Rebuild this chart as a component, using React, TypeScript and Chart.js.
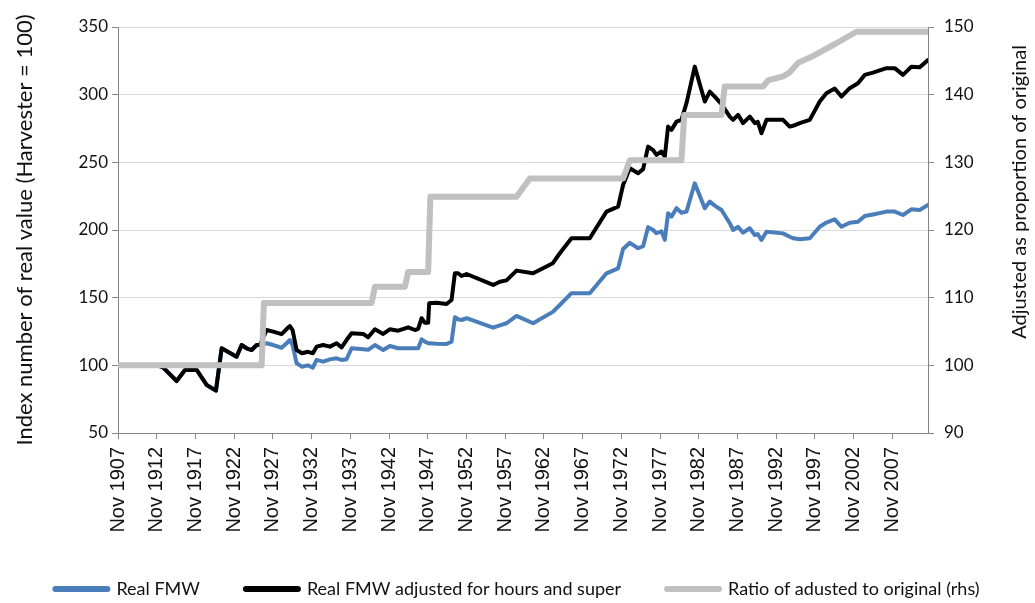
import React, { useEffect, useRef } from 'react';
import { Chart, registerables } from 'chart.js';

Chart.register(...registerables);

// ---------- data ----------
const NOV = 10 / 12;
const tickYears = [1907, 1912, 1917, 1922, 1927, 1932, 1937, 1942, 1947, 1952, 1957, 1962, 1967, 1972, 1977, 1982, 1987, 1992, 1997, 2002, 2007];
const X_END = 2012.44;

const wageDates = [
  1907.83, 1913.0, 1913.68, 1915.41, 1916.48, 1917.99, 1919.28, 1920.48, 1921.22, 1923.15,
  1923.8, 1924.44, 1925.09, 1925.74, 1926.16, 1927.03, 1927.88, 1928.96, 1929.61, 1930.03,
  1930.38, 1930.9, 1931.58, 1932.36, 1933.0, 1933.48, 1934.33, 1935.2, 1936.06, 1936.71,
  1937.35, 1938.0, 1939.5, 1940.14, 1941.01, 1942.08, 1942.94, 1944.02, 1945.31, 1946.17,
  1946.6, 1947.04, 1947.46, 1947.89, 1948.02, 1948.97, 1950.26, 1950.91, 1951.34, 1951.76,
  1952.2, 1952.85, 1956.28, 1957.15, 1958.01, 1959.3, 1961.44, 1963.99, 1964.89, 1966.4,
  1968.76, 1970.92, 1972.42, 1973.06, 1973.93, 1975.0, 1975.65, 1976.29, 1976.94, 1977.38,
  1978.02, 1978.45, 1978.87, 1979.31, 1979.96, 1980.6, 1981.25, 1982.32, 1983.61, 1984.26,
  1984.9, 1985.77, 1986.84, 1987.27, 1987.91, 1988.56, 1989.42, 1990.07, 1990.45, 1990.93,
  1991.58, 1993.72, 1994.58, 1995.01, 1995.88, 1997.17, 1998.46, 1999.32, 2000.39, 2001.26,
  2002.33, 2003.4, 2004.27, 2005.34, 2007.07, 2008.14, 2009.21, 2010.3, 2011.37, 2012.44,
];

const realFMW = [
  100, 100, 98.3, 88.4, 96.6, 96.6, 85.5, 81.3, 112.6, 106.4,
  115, 112.6, 111.3, 115, 115, 116.3, 115, 113, 116.3, 118.7,
  115, 101.5, 99.0, 100, 98.3, 104, 102.7, 104.4, 105.2, 104,
  104.5, 112.6, 111.9, 111.5, 115, 111.3, 114.3, 112.6, 112.6, 112.6,
  112.6, 119.2, 117.5, 116.3, 116.3, 116, 115.8, 117.5, 135.5, 134,
  133.5, 134.8, 127.8, 129.5, 131.1, 136.5, 131.1, 139.5, 144.6, 153.3,
  153.3, 168, 171.7, 186, 190.5, 186.5, 188, 202.1, 200, 197.6,
  199, 192.7, 212.4, 209.9, 216.1, 212.8, 213.6, 234.5, 216.1, 221,
  218, 214.8, 205, 200, 202.4, 198, 201.3, 196.3, 197, 192.6,
  198.7, 197.5, 195, 193.9, 193.1, 193.9, 202.4, 205.5, 207.9, 202.4,
  205.4, 206.1, 210.3, 211.5, 213.6, 213.6, 211.1, 215.3, 214.8, 218.5,
];

const adjustedFMW = [
  100, 100, 98.3, 88.4, 96.6, 96.6, 85.5, 81.3, 112.6, 106.4,
  115, 112.6, 111.3, 115, 115, 126.1, 124.9, 123, 126.8, 129,
  126, 111.3, 108.9, 110, 108.9, 113.8, 115, 113.8, 116.3, 113.3,
  118.7, 123.7, 123.2, 120.7, 126.6, 123.2, 126.6, 125.6, 128.1, 126.1,
  127, 134.8, 131.5, 131.5, 145.8, 146.3, 145.3, 148.3, 168, 168,
  166, 167.5, 159.4, 161.8, 162.8, 170, 168, 175.5, 182.8, 193.9,
  193.9, 213.6, 217.3, 233.3, 245.6, 241.9, 245, 261.6, 259, 255.5,
  258, 254.2, 276.4, 274, 280.1, 281.4, 293.7, 320.7, 294.9, 302.3,
  298.6, 293, 283.8, 281.4, 285.1, 279, 283.8, 279, 280, 271.5,
  281.4, 281.4, 276.4, 277, 279, 281.4, 294.9, 301.1, 304.5, 298.6,
  304.8, 308.5, 314.6, 316.3, 319.6, 319.6, 314.6, 320.7, 320.2, 325.6,
];

const ratioDates = [
  1907.83, 1926.38, 1926.68, 1940.58, 1941.01, 1944.88, 1945.31, 1947.89, 1948.17, 1959.3,
  1961.02, 1973.06, 1973.93, 1980.6, 1980.96, 1985.77, 1986.19, 1991.14, 1991.78, 1993.72,
  1994.58, 1995.66, 1997.39, 2000.61, 2003.2, 2012.44,
];
const ratioValues = [
  100, 100, 109.2, 109.2, 111.6, 111.6, 113.8, 113.8, 124.9, 124.9,
  127.6, 127.6, 130.3, 130.3, 137, 137, 141.2, 141.2, 142.1, 142.7,
  143.3, 144.7, 145.6, 147.6, 149.3, 149.3,
];

const LEFT_TITLE = 'Index number of real value (Harvester = 100)';
const RIGHT_TITLE = 'Adjusted as proportion of original';
const SERIES_LABELS = ['Real FMW', 'Real FMW adjusted for hours and super', 'Ratio of adusted to original (rhs)'];

// ---------- styles ----------
const FONT = "Lato, 'Liberation Sans', sans-serif";
const XFONT = "'Liberation Sans', Arial, sans-serif";
const TEXT = '#111111';
const AXIS = '#868686';
const GRID = '#d9d9d9';
const BLUE = '#4a7ebb';
const BLACK = '#000000';
const GREY = '#c0c0c0';

export default function App() {
  const ref = useRef<HTMLCanvasElement>(null);

  useEffect(() => {
    const canvas = ref.current;
    if (!canvas) return;
    const toPoints = (xs: number[], ys: number[]) => xs.map((x, i) => ({ x, y: ys[i] }));

    const rightTitle = {
      id: 'rightTitle',
      afterDraw(chart: any) {
        const s = chart.scales.y1;
        const c = chart.ctx;
        c.save();
        c.font = `20px ${FONT}`;
        c.fillStyle = TEXT;
        c.textAlign = 'center';
        c.textBaseline = 'middle';
        c.translate(s.right - 15, chart.chartArea.top + 165);
        c.rotate(-Math.PI / 2);
        c.fillText(RIGHT_TITLE, 0, 0);
        c.restore();
      },
    };

    const chart = new Chart(canvas, {
      type: 'line',
      data: {
        datasets: [
          {
            label: SERIES_LABELS[0],
            data: toPoints(wageDates, realFMW),
            borderColor: BLUE,
            backgroundColor: BLUE,
            borderWidth: 4,
            yAxisID: 'y',
            order: 3,
          },
          {
            label: SERIES_LABELS[1],
            data: toPoints(wageDates, adjustedFMW),
            borderColor: BLACK,
            backgroundColor: BLACK,
            borderWidth: 4,
            yAxisID: 'y',
            order: 2,
          },
          {
            label: SERIES_LABELS[2],
            data: toPoints(ratioDates, ratioValues),
            borderColor: GREY,
            backgroundColor: GREY,
            borderWidth: 6,
            yAxisID: 'y1',
            order: 1,
          },
        ],
      },
      options: {
        animation: false,
        responsive: false,
        devicePixelRatio: 1,
        elements: {
          point: { radius: 0, hoverRadius: 0 },
          line: { tension: 0, borderJoinStyle: 'round', borderCapStyle: 'round', fill: false },
        },
        layout: { padding: { top: 27, left: 0, right: 0, bottom: -5 } },
        plugins: {
          tooltip: { enabled: false },
          legend: {
            position: 'bottom',
            labels: {
              usePointStyle: true,
              pointStyle: 'line',
              pointStyleWidth: 52,
              boxHeight: 6,
              padding: 46,
              color: TEXT,
              font: { family: FONT, size: 18 },
              sort: (a: any, b: any) => a.datasetIndex - b.datasetIndex,
              generateLabels: (ch: any) =>
                Chart.defaults.plugins.legend.labels.generateLabels(ch).map((it: any) => ({ ...it, lineWidth: 6, lineCap: 'round' })),
            },
          },
        },
        scales: {
          x: {
            type: 'linear',
            min: tickYears[0] + NOV,
            max: X_END,
            afterBuildTicks: (s: any) => {
              s.ticks = tickYears.map((y) => ({ value: y + NOV }));
            },
            afterFit: (s: any) => {
              s.height = 101;
            },
            ticks: {
              autoSkip: false,
              minRotation: 90,
              maxRotation: 90,
              padding: 8,
              color: TEXT,
              font: { family: XFONT, size: 20 },
              callback: (v: any) => 'Nov ' + Math.floor(Number(v)),
            },
            grid: { drawOnChartArea: false, drawTicks: true, tickLength: 6, tickColor: AXIS },
            border: { color: AXIS, width: 1 },
          },
          y: {
            position: 'left',
            min: 50,
            max: 350,
            afterFit: (s: any) => {
              s.width = 118;
            },
            ticks: { stepSize: 50, padding: 4, color: TEXT, font: { family: FONT, size: 17 } },
            grid: { color: GRID, lineWidth: 1, tickLength: 6, tickColor: AXIS },
            border: { color: AXIS, width: 1 },
            title: {
              display: true,
              text: LEFT_TITLE,
              color: TEXT,
              font: { family: FONT, size: 22 },
              padding: { top: 12, bottom: 0 },
            },
          },
          y1: {
            position: 'right',
            min: 90,
            max: 150,
            afterFit: (s: any) => {
              s.width = 107;
            },
            ticks: { stepSize: 10, padding: 10, color: TEXT, font: { family: FONT, size: 17 } },
            grid: { drawOnChartArea: false, tickLength: 6, tickColor: AXIS },
            border: { color: AXIS, width: 1 },
          },
        },
      } as any,
      plugins: [rightTitle],
    });
    return () => chart.destroy();
  }, []);

  return (
    <div style={{ position: 'absolute', left: 0, top: 0, width: 1035, height: 603, background: '#fff' }}>
      <canvas ref={ref} width={1035} height={603} style={{ display: 'block' }} />
    </div>
  );
}
